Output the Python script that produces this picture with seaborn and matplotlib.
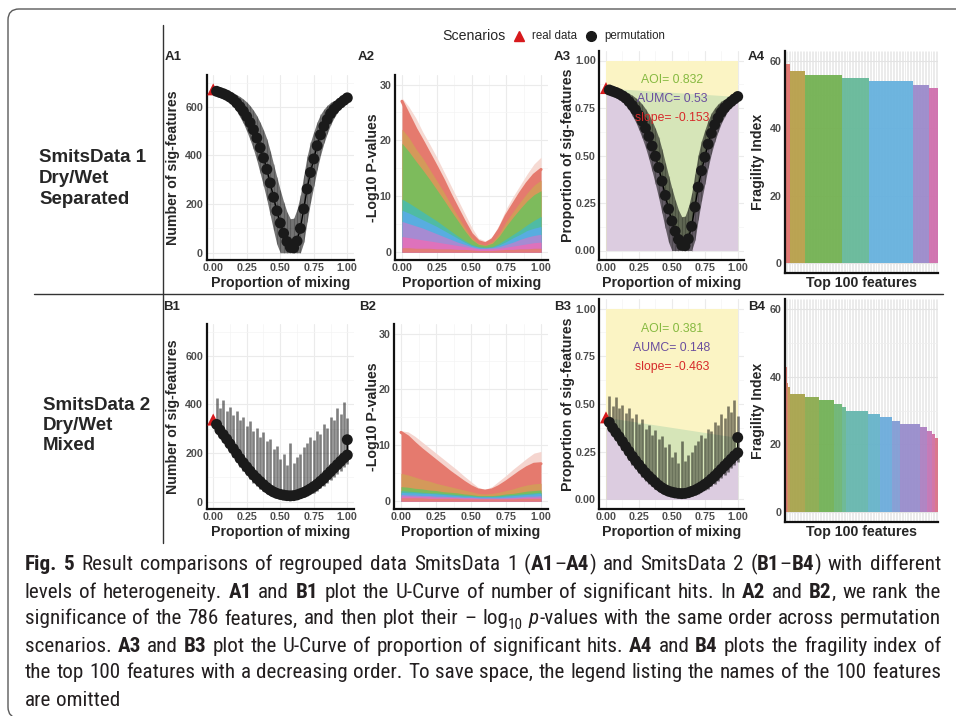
import re
import numpy as np
import matplotlib
matplotlib.use('Agg')
import matplotlib.pyplot as plt
from matplotlib import font_manager as fm
from matplotlib.colors import LinearSegmentedColormap
from matplotlib.lines import Line2D
from matplotlib.patches import FancyBboxPatch
import seaborn as sns

W, H = 956, 716

# ── Data ─────────────────────────────────────────────────────────────
n_features = 786
mix = np.linspace(0.025, 1.0, 40)            # permutation mixing proportions
mix_b = np.append(mix, 1.0)                  # SmitsData 2 has a 2nd point at 1.0

a_real = 672
a_mean = [664, 659, 654, 648, 640, 630, 616, 600, 582, 560,
          535, 506, 472, 432, 390, 343, 287, 228, 172, 122,
          80, 46, 22, 20, 48, 100, 180, 262, 330, 386,
          440, 485, 520, 548, 572, 590, 604, 616, 627, 637]
a_sd = [10, 12, 15, 18, 22, 28, 34, 42, 50, 60,
        70, 80, 92, 104, 115, 125, 132, 136, 138, 136,
        130, 122, 118, 122, 130, 136, 138, 134, 124, 112,
        98, 84, 70, 58, 46, 36, 28, 21, 16, 12]

b_real = 338
b_mean = [318, 295, 276, 258, 238, 218, 198, 178, 160, 143,
          126, 110, 96, 83, 70, 58, 48, 40, 34, 30,
          27, 25, 24, 25, 28, 33, 38, 45, 53, 62,
          72, 84, 96, 110, 124, 138, 152, 166, 180, 192, 255]
b_low = [295, 268, 245, 225, 203, 183, 163, 143, 125, 108,
         92, 78, 65, 54, 44, 35, 28, 22, 18, 15,
         13, 12, 11, 12, 13, 16, 19, 24, 30, 37,
         45, 55, 65, 77, 89, 101, 114, 128, 142, 155, 248]
b_high = [425, 385, 420, 375, 390, 355, 375, 335, 350, 310,
          330, 290, 305, 265, 285, 250, 260, 215, 230, 175,
          195, 150, 240, 160, 185, 195, 225, 240, 265, 255,
          290, 280, 320, 305, 350, 335, 385, 360, 410, 345, 262]

# -log10 p-values, boundaries of the colour bands (top ranked feature first)
p_mix = np.linspace(0, 1, 21)
a2_err = [27.6, 26.0, 24.0, 21.5, 19.3, 17.0, 14.5, 12.0, 9.5, 7.0, 4.5,
          2.5, 2.0, 2.8, 5.0, 7.8, 10.0, 12.0, 14.0, 15.8, 17.0]
a2_bands = [
    [27.0, 24.5, 22.0, 19.8, 17.5, 15.2, 12.8, 10.2, 7.8, 5.4, 3.2,
     1.9, 1.5, 2.2, 4.0, 6.5, 8.5, 10.5, 12.3, 13.8, 14.8],
    [22.0, 20.5, 18.5, 16.8, 14.8, 12.8, 10.8, 8.6, 6.5, 4.5, 2.7,
     1.6, 1.3, 1.9, 3.4, 5.5, 7.3, 9.0, 10.6, 12.0, 12.9],
    [19.5, 18.0, 16.3, 14.7, 13.0, 11.2, 9.4, 7.5, 5.7, 3.9, 2.3,
     1.4, 1.2, 1.6, 2.9, 4.7, 6.3, 7.8, 9.2, 10.3, 11.0],
    [9.5, 8.8, 8.0, 7.2, 6.4, 5.6, 4.7, 3.8, 2.9, 2.1, 1.4,
     1.0, 0.9, 1.0, 1.6, 2.4, 3.2, 4.0, 4.9, 5.7, 6.4],
    [7.5, 7.0, 6.4, 5.8, 5.2, 4.6, 3.9, 3.2, 2.5, 1.8, 1.2,
     0.9, 0.8, 0.9, 1.3, 1.9, 2.6, 3.2, 3.9, 4.3, 4.6],
    [5.5, 5.1, 4.7, 4.3, 3.8, 3.3, 2.8, 2.3, 1.8, 1.4, 1.0,
     0.7, 0.7, 0.8, 1.0, 1.4, 1.8, 2.3, 2.7, 3.0, 3.2],
    [2.8, 2.6, 2.4, 2.2, 2.0, 1.8, 1.6, 1.4, 1.2, 1.0, 0.8,
     0.6, 0.6, 0.6, 0.7, 0.9, 1.1, 1.3, 1.5, 1.7, 1.8],
    [0.8, 0.8, 0.7, 0.7, 0.7, 0.6, 0.6, 0.6, 0.5, 0.5, 0.4,
     0.3, 0.3, 0.3, 0.4, 0.5, 0.5, 0.6, 0.6, 0.7, 0.7],
]
b2_err = [12.6, 12.4, 11.6, 10.6, 9.6, 8.6, 7.6, 6.6, 5.6, 4.5, 3.5,
          2.5, 2.1, 2.6, 3.6, 4.6, 5.7, 6.7, 7.7, 8.6, 8.9]
b2_bands = [
    [12.3, 11.5, 10.3, 9.2, 8.2, 7.2, 6.2, 5.2, 4.3, 3.4, 2.6,
     2.0, 1.8, 2.0, 2.6, 3.4, 4.3, 5.2, 6.0, 6.6, 6.7],
    [5.0, 4.7, 4.3, 3.9, 3.6, 3.2, 2.9, 2.6, 2.3, 2.0, 1.7,
     1.4, 1.3, 1.4, 1.6, 1.9, 2.2, 2.6, 2.9, 3.1, 3.2],
    [2.6, 2.5, 2.3, 2.2, 2.0, 1.9, 1.7, 1.6, 1.5, 1.3, 1.2,
     1.0, 1.0, 1.0, 1.1, 1.3, 1.4, 1.6, 1.8, 1.9, 2.0],
    [1.9, 1.8, 1.7, 1.6, 1.5, 1.5, 1.4, 1.3, 1.2, 1.1, 1.0,
     0.9, 0.9, 0.9, 1.0, 1.1, 1.2, 1.3, 1.4, 1.5, 1.6],
    [1.6, 1.5, 1.5, 1.4, 1.4, 1.3, 1.2, 1.1, 1.0, 0.9, 0.9,
     0.8, 0.8, 0.8, 0.8, 0.9, 1.0, 1.1, 1.2, 1.3, 1.4],
    [1.2, 1.1, 1.1, 1.0, 1.0, 0.9, 0.9, 0.8, 0.8, 0.7, 0.7,
     0.6, 0.6, 0.6, 0.6, 0.7, 0.7, 0.8, 0.9, 0.9, 1.0],
    [0.9, 0.9, 0.8, 0.8, 0.8, 0.7, 0.7, 0.7, 0.6, 0.6, 0.6,
     0.5, 0.5, 0.5, 0.5, 0.5, 0.6, 0.6, 0.7, 0.7, 0.7],
    [0.6, 0.6, 0.6, 0.6, 0.5, 0.5, 0.5, 0.5, 0.5, 0.4, 0.4,
     0.4, 0.4, 0.4, 0.4, 0.4, 0.4, 0.5, 0.5, 0.5, 0.5],
]

a3_stats = [('AOI', 0.832), ('AUMC', 0.53), ('slope', -0.153)]
b3_stats = [('AOI', 0.381), ('AUMC', 0.148), ('slope', -0.463)]

# fragility index of the top 100 features (value, number of features)
a4_levels = [59, 57, 56, 55, 54, 53, 52]
a4_counts = [3, 10, 24, 18, 29, 10, 6]
b4_levels = [43, 38, 37, 35, 34, 33, 32, 31, 30, 29, 28, 27, 26, 25, 24, 23, 22]
b4_counts = [1, 1, 1, 10, 9, 10, 5, 3, 14, 8, 8, 5, 13, 5, 3, 2, 2]

row_labels = [['SmitsData 1', 'Dry/Wet', 'Separated'],
              ['SmitsData 2', 'Dry/Wet', 'Mixed']]

caption_lines = [
    "**Fig.** **5**  Result comparisons of regrouped data SmitsData 1 (**A1**–**A4**) and SmitsData 2 (**B1**–**B4**) with different",
    "levels of heterogeneity. **A1** and **B1** plot the U-Curve of number of significant hits. In **A2** and **B2**, we rank the",
    "significance of the 786 features, and then plot their –  log~10~ _p_-values with the same order across permutation",
    "scenarios. **A3** and **B3** plot the U-Curve of proportion of significant hits. **A4** and **B4** plots the fragility index of",
    "the top 100 features with a decreasing order. To save space, the legend listing the names of the 100 features",
    "are omitted",
]

# ── Styling ──────────────────────────────────────────────────────────
sns.set_theme(style='white')
plt.rcParams['font.family'] = ['Liberation Sans', 'DejaVu Sans']

band_colors = ['#E57A6E', '#D4995A', '#7DBB5C', '#4FBBA4',
               '#58ADE0', '#A68BD2', '#DE72BC', '#E27C78']
# muted hue wheel as printed (red -> olive -> green -> teal -> blue -> purple -> pink)
wheel = ['#E0736E', '#B8A04A', '#73B152', '#66B99A', '#66B1DE', '#9B8ACB',
         '#CF6FAE', '#E0736E']
wheel_cmap = LinearSegmentedColormap.from_list('wheel', wheel)
TICK_C = '#4D4D4D'


def level_colors(n):
    # n evenly spaced hues around the wheel, like ggplot's default fill
    return [wheel_cmap(k / n * 7 / 7) for k in range(n)]


fig = plt.figure(figsize=(W / 100, H / 100), dpi=100)
fig.patch.set_facecolor('white')


def add_panel(box):
    l, t, r, b = box
    return fig.add_axes([l / W, 1 - b / H, (r - l) / W, (b - t) / H])


def finish(ax, box, xlab, ylab, ylab_x, xlab_y):
    l, t, r, b = box
    for s in ['top', 'right']:
        ax.spines[s].set_visible(False)
    for s in ['left', 'bottom']:
        ax.spines[s].set_color('#111111')
        ax.spines[s].set_linewidth(1.6)
    ax.tick_params(which='both', length=0, pad=2.5)
    ax.set_axisbelow(True)
    ax.set_xlabel(xlab, fontsize=10.2, fontweight='bold', va='center')
    ax.xaxis.set_label_coords(0.5, (b - xlab_y) / (b - t))
    ax.set_ylabel(ylab, fontsize=10.2, fontweight='bold', va='center')
    ax.yaxis.set_label_coords((ylab_x - l) / (r - l), 0.5)


def set_ticks(ax, yt, ylab, ymin, xt=True):
    if xt:
        ax.set_xticks([0, 0.25, 0.5, 0.75, 1.0],
                      labels=['0.00', '0.25', '0.50', '0.75', '1.00'],
                      fontweight='bold', fontsize=7.7, color=TICK_C)
        ax.set_xticks([0.125, 0.375, 0.625, 0.875], minor=True)
    ax.set_yticks(yt, labels=ylab, fontweight='bold', fontsize=7.7, color=TICK_C)
    ax.set_yticks(ymin, minor=True)
    ax.grid(True, which='major', color='#EBEBEB', lw=0.8)
    ax.grid(True, which='minor', color='#F4F4F4', lw=0.5)


def u_curve(ax, x, mean, lo, hi, real, as_band, scale=1.0):
    y = np.asarray(mean, float) / scale
    lo = np.asarray(lo, float) / scale
    hi = np.asarray(hi, float) / scale
    if as_band:
        # dense error bars merge into a single band
        ax.fill_between(x, lo, hi, color='black', alpha=0.55, lw=0, zorder=3)
        ax.vlines(x, lo, hi, color='black', alpha=0.2, lw=0.8, zorder=3)
    else:
        ax.vlines(x, lo, hi, color='black', alpha=0.5, lw=1.9, zorder=3)
    sns.lineplot(x=x, y=y, sort=False, estimator=None, color='black',
                 lw=1, ax=ax, zorder=4)
    sns.scatterplot(x=[0.0], y=[real / scale], marker='^', s=75,
                    color='#D7191C', edgecolor='none', ax=ax, zorder=4)
    sns.scatterplot(x=x, y=y, s=62, color='#1A1A1A', edgecolor='none',
                    ax=ax, zorder=5)


def p_panel(ax, bands, err, pale):
    ax.fill_between(p_mix, bands[0], err, color=pale, lw=0, zorder=2)
    for vals, c in zip(bands, band_colors):
        ax.fill_between(p_mix, 0, vals, color=c, lw=0, zorder=3)
    sns.lineplot(x=p_mix, y=bands[0], color=band_colors[0], lw=2.2,
                 ax=ax, zorder=4)


def area_panel(ax, x, mean, lo, hi, real, stats, as_band):
    cx = np.concatenate([[0.0], x])
    cy = np.concatenate([[real], mean]) / n_features
    ax.fill_between([0, 1], 0, 1, color='#FBF4C4', lw=0, zorder=1)
    ax.fill_between([0, 1], 0, [cy[0], cy[-1]], color='#D6E5B8', lw=0, zorder=1)
    ax.fill_between(cx, 0, cy, color='#DCCCE0', lw=0, zorder=2)
    u_curve(ax, x, mean, lo, hi, real, as_band, scale=n_features)
    cols = ['#86B940', '#6A4E9E', '#D62A2A']
    for (name, val), c, yy in zip(stats, cols, [0.895, 0.795, 0.695]):
        ax.text(0.5, yy, f'{name}= {val}', color=c, fontsize=8.8,
                ha='center', va='center', zorder=6)


def fragility_panel(ax, levels, counts):
    vals = np.repeat(levels, counts)
    idx = np.arange(len(vals))
    pal = dict(zip(levels, level_colors(len(levels))))
    ax.vlines(idx, -3, 63, color='#E3E3E3', lw=0.5, zorder=0)
    ax.bar(idx, vals, width=1.0, color=[pal[v] for v in vals], alpha=0.95,
           linewidth=0, zorder=2)
    ax.set_xticks([])
    ax.set_yticks([0, 20, 40, 60], labels=['0', '20', '40', '60'],
                  fontweight='bold', fontsize=7.7, color=TICK_C)
    ax.set_yticks([10, 30, 50], minor=True)
    ax.grid(True, which='major', axis='y', color='#E3E3E3', lw=0.8)
    ax.grid(True, which='minor', axis='y', color='#EFEFEF', lw=0.5)
    ax.set_xlim(-0.6, len(vals) - 0.4)
    ax.set_ylim(-3, 63)


boxes = {
    'A1': (206.5, 75, 354, 260), 'A2': (395, 75, 548, 260),
    'A3': (599.4, 51, 744.3, 260), 'A4': (785, 51, 938, 273),
    'B1': (206.5, 324, 354, 509), 'B2': (394, 324, 548, 509),
    'B3': (599.4, 299, 744.3, 509), 'B4': (785, 299, 938, 522),
}

a_mean_arr = np.asarray(a_mean, float)
a_lo = np.maximum(a_mean_arr - np.asarray(a_sd), 0)
a_hi = a_mean_arr + np.asarray(a_sd)

for row, xlab_y in [('A', 283.3), ('B', 532.3)]:
    if row == 'A':
        x, mean, lo, hi, real = mix, a_mean, a_lo, a_hi, a_real
        bands, err, pale, stats = a2_bands, a2_err, '#F6DAD3', a3_stats
        levels, counts = a4_levels, a4_counts
        as_band = True
    else:
        x, mean, lo, hi, real = mix_b, b_mean, b_low, b_high, b_real
        bands, err, pale, stats = b2_bands, b2_err, '#F5D5CF', b3_stats
        levels, counts = b4_levels, b4_counts
        as_band = False

    # 1: number of significant features
    ax = add_panel(boxes[row + '1'])
    u_curve(ax, x, mean, lo, hi, real, as_band)
    set_ticks(ax, [0, 200, 400, 600], ['0', '200', '400', '600'], [100, 300, 500, 700])
    ax.set_xlim(-0.05, 1.05)
    ax.set_ylim(-30, 731)
    finish(ax, boxes[row + '1'], 'Proportion of mixing', 'Number of sig-features', 173.3, xlab_y)

    # 2: -log10 p-values
    ax = add_panel(boxes[row + '2'])
    p_panel(ax, bands, err, pale)
    set_ticks(ax, [0, 10, 20, 30], ['0', '10', '20', '30'], [5, 15, 25])
    ax.set_xlim(-0.05, 1.05)
    ax.set_ylim(-1.4, 31.7)
    finish(ax, boxes[row + '2'], 'Proportion of mixing', '-Log10 P-values', 372.8, xlab_y)

    # 3: proportion of significant features
    ax = add_panel(boxes[row + '3'])
    area_panel(ax, x, np.asarray(mean, float), lo, hi, real, stats, as_band)
    set_ticks(ax, [0, 0.25, 0.5, 0.75, 1.0], ['0.00', '0.25', '0.50', '0.75', '1.00'],
              [0.125, 0.375, 0.625, 0.875])
    ax.set_xlim(-0.05, 1.05)
    ax.set_ylim(-0.05, 1.05)
    finish(ax, boxes[row + '3'], 'Proportion of mixing', 'Proportion of sig-features', 568.3, xlab_y)

    # 4: fragility index
    ax = add_panel(boxes[row + '4'])
    fragility_panel(ax, levels, counts)
    finish(ax, boxes[row + '4'], 'Top 100 features', 'Fragility Index', 758.3, xlab_y)

# ── Panel tags ───────────────────────────────────────────────────────
tag_pos = {'A1': (165, 57.5), 'A2': (358, 57.5), 'A3': (554, 57.5), 'A4': (748, 57.5),
           'B1': (163, 306.7), 'B2': (359, 306.7), 'B3': (554, 306.7), 'B4': (748, 306.7)}
for tag, (tx, ty) in tag_pos.items():
    fig.text(tx / W, 1 - ty / H, tag, fontsize=9.5, fontweight='bold',
             ha='left', va='center')

# ── Legend ───────────────────────────────────────────────────────────
ly = 1 - 35.7 / H
fig.text(442 / W, ly, 'Scenarios', fontsize=10.2, ha='left', va='center')
fig.add_artist(Line2D([519 / W], [ly], marker='^', ms=7.5, color='#D7191C',
                      ls='none', transform=fig.transFigure))
fig.text(532 / W, ly, 'real data', fontsize=8.3, ha='left', va='center')
fig.add_artist(Line2D([591 / W], [ly], marker='o', ms=7, color='#1A1A1A',
                      ls='none', transform=fig.transFigure))
fig.text(604 / W, ly, 'permutation', fontsize=8.3, ha='left', va='center')

# ── Row labels ───────────────────────────────────────────────────────
for lines, lx, ys in [(row_labels[0], 39, [158, 178.5, 199]),
                      (row_labels[1], 43, [405, 425.5, 446])]:
    for s, yy in zip(lines, ys):
        fig.text(lx / W, 1 - yy / H, s, fontsize=13.5, fontweight='bold',
                 ha='left', va='center')

# ── Frame lines ──────────────────────────────────────────────────────
fig.add_artist(FancyBboxPatch((0.08, -0.02), 10.0, 7.09,
                              boxstyle='round,pad=0,rounding_size=0.11',
                              transform=fig.dpi_scale_trans, fill=False,
                              ec='#5A5A5A', lw=1.0))
fig.add_artist(Line2D([163 / W, 163 / W], [1 - 25 / H, 1 - 543 / H],
                      color='#333333', lw=1.0, transform=fig.transFigure))
fig.add_artist(Line2D([34 / W, 943 / W], [1 - 294 / H, 1 - 294 / H],
                      color='#333333', lw=1.0, transform=fig.transFigure))

# ── Caption (justified rich text) ────────────────────────────────────
def have_font(name):
    try:
        fm.findfont(fm.FontProperties(family=name), fallback_to_default=False)
        return True
    except Exception:
        return False


cap_family = next((f for f in ['Liberation Sans Narrow', 'Roboto Condensed',
                               'Open Sans Condensed', 'Lato', 'Liberation Sans']
                   if have_font(f)), 'DejaVu Sans')
renderer = fig.canvas.get_renderer()


def run_props(kind, size):
    p = dict(fontsize=size, family=cap_family, color='#231F20')
    if kind == 'bold':
        p['fontweight'] = 'bold'
    elif kind == 'italic':
        p['fontstyle'] = 'italic'
    elif kind == 'sub':
        p['fontsize'] = size * 0.72
    return p


def measure(s, kind, size):
    t = fig.text(0, 0, s, **run_props(kind, size))
    w = t.get_window_extent(renderer=renderer).width
    t.remove()
    return w


def parse_word(word):
    runs = []
    for b, i, s, r in re.findall(r'\*\*(.+?)\*\*|_(.+?)_|~(.+?)~|([^*_~]+)', word):
        if b:
            runs.append((b, 'bold'))
        elif i:
            runs.append((i, 'italic'))
        elif s:
            runs.append((s, 'sub'))
        else:
            runs.append((r, 'normal'))
    return runs


parsed = [[parse_word(w) for w in line.split(' ') if w] for line in caption_lines]
cap_x0, cap_x1 = 25, 941
target = cap_x1 - cap_x0


def natural_width(words, size):
    sp = measure('n n', 'normal', size) - measure('nn', 'normal', size)
    ww = [sum(measure(t, k, size) for t, k in wd) for wd in words]
    return sum(ww) + sp * (len(ww) - 1), ww, sp


s0 = 12.0
ratios = [target / natural_width(words, s0)[0] for words in parsed[:-1]]
cap_size = s0 * min(ratios) * 0.99

for li, words in enumerate(parsed):
    total, ww, sp = natural_width(words, cap_size)
    if li < len(parsed) - 1:
        gap = (target - sum(ww)) / (len(ww) - 1)
    else:
        gap = sp
    base_y = 570.5 + li * 27.0
    xc = cap_x0
    for wd, wdw in zip(words, ww):
        xr = xc
        for t, k in wd:
            yy = base_y + (0.22 * cap_size * 100 / 72 if k == 'sub' else 0)
            fig.text(xr / W, 1 - yy / H, t, ha='left', va='baseline',
                     **run_props(k, cap_size))
            xr += measure(t, k, cap_size)
        xc += wdw + gap

fig.savefig('out.png', dpi=100, facecolor='white')
